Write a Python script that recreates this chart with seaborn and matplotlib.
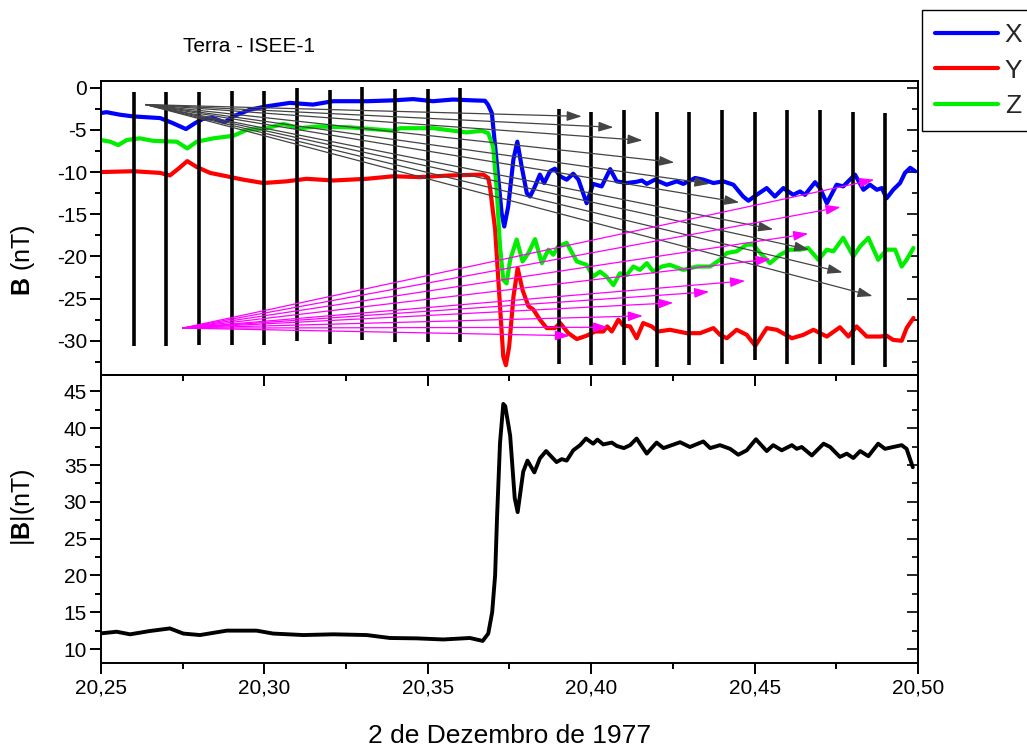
import numpy as np
import pandas as pd
import matplotlib
matplotlib.use("Agg")
import matplotlib.pyplot as plt
from matplotlib.ticker import MultipleLocator, FuncFormatter
import seaborn as sns

# ---------------- data ----------------
x_X = [20.2500, 20.2517, 20.2558, 20.2598, 20.2681, 20.2720, 20.2760, 20.2788, 20.2812, 20.2843,
       20.2879, 20.2904, 20.2956, 20.3008, 20.3078, 20.3149, 20.3210, 20.3314, 20.3394, 20.3455,
       20.3516, 20.3577, 20.3638, 20.3675, 20.3684, 20.3696, 20.3711, 20.3726, 20.3734, 20.3746,
       20.3762, 20.3774, 20.3787, 20.3803, 20.3813, 20.3828, 20.3843, 20.3856, 20.3874, 20.3889,
       20.3905, 20.3925, 20.3945, 20.3961, 20.3986, 20.4006, 20.4032, 20.4058, 20.4078, 20.4109,
       20.4139, 20.4155, 20.4170, 20.4195, 20.4231, 20.4262, 20.4282, 20.4318, 20.4343, 20.4374,
       20.4404, 20.4435, 20.4465, 20.4481, 20.4506, 20.4537, 20.4562, 20.4588, 20.4618, 20.4639,
       20.4654, 20.4685, 20.4700, 20.4721, 20.4751, 20.4771, 20.4807, 20.4833, 20.4853, 20.4874,
       20.4889, 20.4904, 20.4924, 20.4945, 20.4960, 20.4976, 20.4991]
B_X = [-3.0, -2.9, -3.2, -3.4, -3.6, -4.2, -4.9, -4.2, -3.7, -3.6,
       -4.1, -3.4, -2.6, -2.2, -1.8, -2.0, -1.6, -1.6, -1.5, -1.35,
       -1.6, -1.4, -1.5, -1.55, -2.0, -3.0, -8.9, -14.9, -16.45, -14.1,
       -8.5, -6.4, -9.3, -12.5, -12.9, -11.7, -10.3, -11.3, -9.9, -9.6,
       -10.5, -10.9, -10.2, -10.9, -13.7, -11.4, -11.7, -9.65, -11.1, -11.3,
       -11.15, -11.0, -11.4, -10.9, -11.5, -11.1, -11.4, -10.7, -10.9, -11.3,
       -11.1, -11.5, -12.9, -13.4, -12.7, -11.9, -12.9, -11.9, -12.7, -12.3,
       -12.7, -11.2, -11.9, -13.7, -11.5, -11.7, -10.3, -12.1, -11.5, -12.1,
       -11.9, -13.1, -12.1, -11.3, -10.1, -9.5, -9.9]

x_Y = [20.2500, 20.2599, 20.2681, 20.2711, 20.2737, 20.2764, 20.2793, 20.2834, 20.2885, 20.2935,
       20.2997, 20.3068, 20.3129, 20.3211, 20.3313, 20.3394, 20.3476, 20.3568, 20.3670, 20.3685,
       20.3690, 20.3706, 20.3721, 20.3731, 20.3739, 20.3749, 20.3762, 20.3775, 20.3790, 20.3808,
       20.3823, 20.3843, 20.3864, 20.3889, 20.3905, 20.3930, 20.3956, 20.3986, 20.4012, 20.4037,
       20.4049, 20.4063, 20.4083, 20.4098, 20.4119, 20.4139, 20.4159, 20.4185, 20.4205, 20.4241,
       20.4292, 20.4333, 20.4374, 20.4394, 20.4415, 20.4445, 20.4476, 20.4502, 20.4537, 20.4568,
       20.4614, 20.4649, 20.4680, 20.4721, 20.4761, 20.4787, 20.4812, 20.4843, 20.4884, 20.4904,
       20.4924, 20.4950, 20.4965, 20.4986]
B_Y = [-10.0, -9.9, -10.1, -10.4, -9.6, -8.7, -9.4, -10.1, -10.5, -10.9,
       -11.3, -11.1, -10.8, -11.0, -10.8, -10.5, -10.6, -10.4, -10.3, -10.7,
       -11.7, -16.8, -25.9, -31.9, -32.9, -30.7, -24.8, -21.4, -24.0, -25.9,
       -26.3, -27.5, -28.5, -28.5, -27.9, -29.1, -29.8, -29.4, -28.9, -28.9,
       -28.3, -28.9, -27.5, -28.2, -28.3, -29.7, -27.9, -28.3, -28.9, -28.7,
       -29.1, -29.1, -28.5, -29.3, -29.7, -28.7, -29.3, -30.6, -28.5, -28.7,
       -29.7, -29.3, -28.7, -29.5, -28.4, -29.5, -28.3, -29.5, -29.5, -29.4,
       -29.9, -30.0, -28.5, -27.3]

x_Z = [20.2500, 20.2528, 20.2553, 20.2579, 20.2619, 20.2660, 20.2732, 20.2764, 20.2793, 20.2844,
       20.2905, 20.2946, 20.3007, 20.3058, 20.3109, 20.3160, 20.3262, 20.3394, 20.3415, 20.3517,
       20.3619, 20.3665, 20.3685, 20.3700, 20.3711, 20.3721, 20.3731, 20.3741, 20.3752, 20.3772,
       20.3790, 20.3808, 20.3828, 20.3849, 20.3869, 20.3884, 20.3899, 20.3925, 20.3956, 20.3986,
       20.4006, 20.4027, 20.4047, 20.4068, 20.4088, 20.4109, 20.4129, 20.4149, 20.4170, 20.4190,
       20.4216, 20.4241, 20.4282, 20.4323, 20.4364, 20.4394, 20.4415, 20.4445, 20.4476, 20.4496,
       20.4517, 20.4547, 20.4578, 20.4608, 20.4639, 20.4664, 20.4695, 20.4721, 20.4741, 20.4771,
       20.4802, 20.4823, 20.4848, 20.4878, 20.4904, 20.4930, 20.4950, 20.4965, 20.4986]
B_Z = [-6.2, -6.4, -6.8, -6.2, -6.0, -6.3, -6.4, -7.2, -6.4, -6.0,
       -5.7, -5.0, -4.8, -4.3, -4.8, -4.6, -4.7, -5.1, -4.8, -4.8,
       -5.3, -5.1, -5.4, -7.0, -12.1, -18.8, -22.8, -23.2, -20.4, -18.0,
       -20.6, -19.6, -17.95, -20.8, -19.2, -19.8, -18.8, -18.4, -20.6, -21.0,
       -22.4, -21.8, -22.4, -23.4, -22.0, -22.2, -21.2, -21.6, -20.8, -21.8,
       -21.2, -21.0, -21.6, -21.2, -21.2, -20.4, -19.6, -19.4, -18.6, -18.6,
       -19.6, -20.8, -19.8, -19.2, -19.2, -19.0, -20.4, -19.2, -19.4, -17.8,
       -20.0, -18.8, -17.8, -20.4, -19.2, -19.2, -21.2, -20.4, -19.0]

x_mod = [20.2500, 20.2548, 20.2589, 20.2650, 20.2711, 20.2752, 20.2803, 20.2844, 20.2885, 20.2976,
         20.3027, 20.3119, 20.3211, 20.3313, 20.3384, 20.3466, 20.3547, 20.3629, 20.3668, 20.3685,
         20.3697, 20.3706, 20.3712, 20.3721, 20.3731, 20.3737, 20.3752, 20.3766, 20.3775, 20.3792,
         20.3805, 20.3826, 20.3843, 20.3862, 20.3894, 20.3910, 20.3925, 20.3945, 20.3966, 20.3984,
         20.4006, 20.4019, 20.4037, 20.4063, 20.4078, 20.4100, 20.4119, 20.4139, 20.4170, 20.4200,
         20.4221, 20.4272, 20.4302, 20.4343, 20.4364, 20.4394, 20.4425, 20.4450, 20.4476, 20.4504,
         20.4537, 20.4557, 20.4583, 20.4614, 20.4629, 20.4644, 20.4675, 20.4711, 20.4731, 20.4761,
         20.4782, 20.4802, 20.4823, 20.4848, 20.4878, 20.4899, 20.4924, 20.4950, 20.4965, 20.4984]
B_mod = [12.13, 12.35, 12.0, 12.45, 12.8, 12.1, 11.9, 12.2, 12.5, 12.5,
         12.1, 11.9, 12.0, 11.9, 11.5, 11.45, 11.3, 11.5, 11.1, 12.1,
         15.0, 20.0, 28.0, 38.0, 43.3, 43.0, 39.0, 30.5, 28.6, 34.1,
         35.6, 34.0, 35.9, 36.9, 35.4, 35.8, 35.6, 37.0, 37.7, 38.6,
         37.9, 38.45, 37.8, 38.05, 37.6, 37.3, 37.7, 38.6, 36.55, 38.05,
         37.3, 38.1, 37.45, 38.2, 37.3, 37.7, 37.2, 36.4, 37.0, 38.5,
         36.9, 37.7, 37.0, 37.7, 37.2, 37.45, 36.3, 37.9, 37.45, 36.1,
         36.55, 35.95, 36.9, 36.2, 37.9, 37.2, 37.45, 37.7, 37.2, 34.7]

# vertical markers (time, bottom, top)
vline_x = [20.26, 20.27, 20.28, 20.29, 20.30, 20.31, 20.32, 20.33, 20.34, 20.35, 20.36,
           20.39, 20.40, 20.41, 20.42, 20.43, 20.44, 20.45, 20.46, 20.47, 20.48, 20.49]
vline_top = [-0.5, -0.55, -0.47, -0.36, -0.36, 0.0, -0.3, 0.1, -0.16, -0.16, 0.0,
             -2.5, -2.85, -2.7, -2.9, -2.85, -2.6, -2.9, -2.6, -2.6, -2.85, -3.0]
vline_bot = [-30.6, -30.6, -30.5, -30.5, -30.5, -30.0, -30.4, -29.9, -30.2, -30.2, -30.1,
             -32.7, -32.9, -32.9, -33.1, -32.9, -32.7, -32.3, -32.7, -32.7, -32.9, -33.1]

# arrows
gray_start = (20.2637, -2.0)
gray_end_x = [20.3971, 20.4068, 20.4157, 20.4254, 20.4362, 20.4453, 20.4557, 20.4667, 20.4769, 20.4861]
gray_end_y = [-3.4, -4.7, -6.25, -8.86, -11.4, -13.6, -16.8, -19.2, -21.9, -24.7]
mag_start = (20.2750, -28.5)
mag_end_x = [20.3935, 20.4052, 20.4158, 20.4251, 20.4361, 20.4471, 20.4549, 20.4664, 20.4763, 20.4866]
mag_end_y = [-29.4, -28.4, -27.05, -25.5, -24.2, -22.9, -20.3, -17.3, -14.15, -10.9]

# ---------------- style ----------------
sns.set_theme(style="white")
plt.rcParams['font.family'] = ['Liberation Sans', 'DejaVu Sans']
plt.rcParams['mathtext.fontset'] = 'custom'
plt.rcParams['mathtext.rm'] = 'Liberation Sans'
plt.rcParams['mathtext.bf'] = 'Liberation Sans:bold'
plt.rcParams['axes.unicode_minus'] = False

fig = plt.figure(figsize=(10.27, 7.49), dpi=100)
ax1 = fig.add_axes([0.0983, 0.5, 0.7956, 0.3919])
ax2 = fig.add_axes([0.0983, 0.1148, 0.7956, 0.3852])

lw = 3.0
colors = {'X': '#0000ff', 'Y': '#ff0000', 'Z': '#00ee00'}
for name, xs, ys in [('X', x_X, B_X), ('Y', x_Y, B_Y), ('Z', x_Z, B_Z)]:
    df = pd.DataFrame({'t': xs, 'B': ys})
    sns.lineplot(data=df, x='t', y='B', ax=ax1, color=colors[name], lw=lw,
                 estimator=None, sort=False, label=name, zorder=2)

ax1.vlines(vline_x, vline_bot, vline_top, colors='black', lw=2.6, zorder=3)

for ex, ey in zip(gray_end_x, gray_end_y):
    ax1.annotate('', xy=(ex, ey), xytext=gray_start,
                 arrowprops=dict(arrowstyle='-|>,head_length=0.9,head_width=0.3',
                                 color='#444444', lw=0.9, mutation_scale=10,
                                 shrinkA=0, shrinkB=0), zorder=4)
for ex, ey in zip(mag_end_x, mag_end_y):
    ax1.annotate('', xy=(ex, ey), xytext=mag_start,
                 arrowprops=dict(arrowstyle='-|>,head_length=0.9,head_width=0.3',
                                 color='#ff00ff', lw=0.9, mutation_scale=10,
                                 shrinkA=0, shrinkB=0), zorder=4)

dfm = pd.DataFrame({'t': x_mod, 'B': B_mod})
sns.lineplot(data=dfm, x='t', y='B', ax=ax2, color='black', lw=2.8,
             estimator=None, sort=False)

ax1.set_xlim(20.25, 20.50)
ax2.set_xlim(20.25, 20.50)
ax1.set_ylim(-34.0, 0.8)
ax2.set_ylim(8.1, 47.3)

comma = FuncFormatter(lambda v, p: f"{v:.2f}".replace('.', ','))
for ax in (ax1, ax2):
    ax.xaxis.set_major_locator(MultipleLocator(0.05))
    ax.xaxis.set_minor_locator(MultipleLocator(0.025))
    ax.yaxis.set_major_locator(MultipleLocator(5))
    ax.yaxis.set_minor_locator(MultipleLocator(2.5))
    ax.xaxis.set_major_formatter(comma)
    for sp in ax.spines.values():
        sp.set_linewidth(1.4)
        sp.set_color('black')
    ax.tick_params(axis='both', which='both', colors='black', width=1.4,
                   labelsize=15, labelcolor='black')
    ax.tick_params(axis='x', which='major', direction='out', length=8, pad=3,
                   bottom=True, top=False)
    ax.tick_params(axis='x', which='minor', direction='out', length=4.5,
                   bottom=True, top=False)
    ax.tick_params(axis='y', which='major', direction='out', length=8, pad=2,
                   left=True, right=False)
    ax.tick_params(axis='y', which='minor', direction='out', length=4.5,
                   left=True, right=False)
    ax.set_xlabel('')
    ax.set_ylabel('')
    # right side inward ticks
    sec = ax.secondary_yaxis('right')
    sec.yaxis.set_major_locator(MultipleLocator(5))
    sec.yaxis.set_minor_locator(MultipleLocator(2.5))
    sec.tick_params(axis='y', which='major', direction='in', length=8, width=1.4,
                    labelright=False)
    sec.tick_params(axis='y', which='minor', direction='in', length=4.5, width=1.4,
                    labelright=False)
    sec.spines['right'].set_linewidth(1.4)

ax1.tick_params(axis='x', labelbottom=False)
ax1.set_zorder(3)
ax1.patch.set_alpha(0)

ax1.set_ylabel(r'$\mathbf{B}$ (nT)', fontsize=18, color='black')
ax1.yaxis.set_label_coords(-0.078, 0.39)
ax2.set_ylabel(r'|$\mathbf{B}$|(nT)', fontsize=18, color='black')
ax2.yaxis.set_label_coords(-0.078, 0.54)
ax2.set_xlabel('2 de Dezembro de 1977', fontsize=19, color='black', labelpad=19)

fig.text(0.2425, 0.938, 'Terra - ISEE-1', fontsize=15, ha='center', va='center', color='black')

handles, labels = ax1.get_legend_handles_labels()
ax1.get_legend().remove()
leg = fig.legend(handles, labels, loc='upper left', bbox_to_anchor=(0.8975, 0.9866),
                 bbox_transform=fig.transFigure, fontsize=19, frameon=True,
                 fancybox=False, shadow=False, framealpha=1, edgecolor='black',
                 borderaxespad=0, handlelength=2.4, handletextpad=0.25,
                 labelspacing=0.43, borderpad=0.5)
leg.get_frame().set_linewidth(1.0)

fig.savefig('out.png', dpi=100)
